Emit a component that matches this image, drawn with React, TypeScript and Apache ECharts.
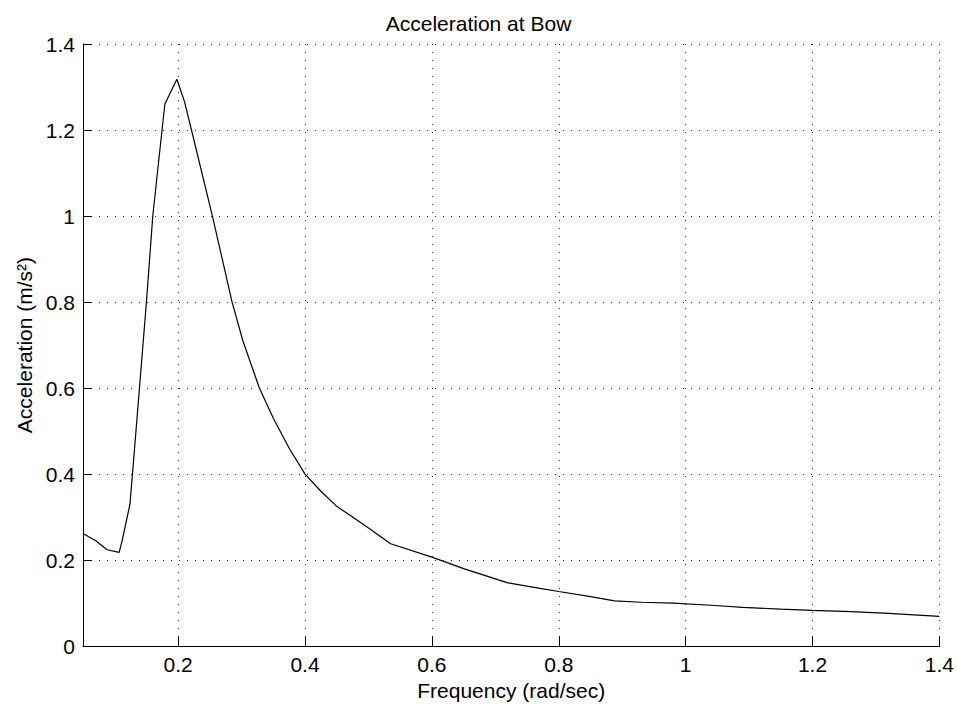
import React, { useEffect, useRef } from "react";
import * as echarts from "echarts";

const TITLE = "Acceleration at Bow";
const X_NAME = "Frequency (rad/sec)";
const Y_NAME = "Acceleration (m/s²)";

const freq: number[] = [
  0.05, 0.07, 0.088, 0.107, 0.112, 0.124, 0.128, 0.139, 0.15, 0.16, 0.168, 0.179,
  0.188, 0.198, 0.21, 0.221, 0.254, 0.285, 0.302, 0.328, 0.35, 0.375,
  0.4, 0.425, 0.45, 0.49, 0.535, 0.6, 0.65, 0.705, 0.72, 0.768, 0.8, 0.85,
  0.888, 0.93, 0.98, 1.04, 1.09, 1.15, 1.2, 1.26, 1.32, 1.4,
];
const accel: number[] = [
  0.262, 0.245, 0.224, 0.218, 0.247, 0.33, 0.4, 0.6, 0.8, 1.0, 1.11, 1.26,
  1.288, 1.318, 1.266, 1.2, 1.0, 0.8, 0.71, 0.6, 0.53, 0.46,
  0.4, 0.36, 0.325, 0.285, 0.238, 0.207, 0.18, 0.154, 0.147, 0.135, 0.127, 0.115,
  0.105, 0.102, 0.1, 0.095, 0.09, 0.086, 0.083, 0.08, 0.076, 0.069,
];

const X_MIN = 0.05;
const X_MAX = 1.4;
const Y_MIN = 0;
const Y_MAX = 1.4;
const Y_STEP = 0.2;

const FONT = "'Liberation Sans', Arial, Helvetica, sans-serif";

export default function App() {
  const ref = useRef<HTMLDivElement>(null);
  useEffect(() => {
    if (!ref.current) return;
    const chart = echarts.init(ref.current, null, { renderer: "svg" });
    const gridLine = { show: true, lineStyle: { color: "#222", width: 1, type: [1, 7] as any } };
    chart.setOption({
      animation: false,
      backgroundColor: "#fff",
      textStyle: { fontFamily: FONT },
      title: {
        text: TITLE,
        left: "center",
        top: 8,
        textStyle: { fontFamily: FONT, fontSize: 21, fontWeight: "normal", color: "#000" },
      },
      grid: { left: 83, right: 15, top: 44, bottom: 59, containLabel: false },
      xAxis: {
        type: "value",
        min: X_MIN,
        max: X_MAX,
        splitNumber: 7,
        name: X_NAME,
        nameLocation: "middle",
        nameGap: 32,
        nameTextStyle: { fontFamily: FONT, fontSize: 21, color: "#000" },
        axisLine: { show: true, onZero: false, lineStyle: { color: "#000", width: 1 } },
        axisTick: { show: true, inside: true, length: 9, lineStyle: { color: "#000" } },
        axisLabel: { showMinLabel: false, margin: 8, fontFamily: FONT, fontSize: 21, color: "#000" },
        splitLine: gridLine,
      },
      yAxis: {
        type: "value",
        min: Y_MIN,
        max: Y_MAX,
        interval: Y_STEP,
        name: Y_NAME,
        nameLocation: "middle",
        nameGap: 46,
        nameTextStyle: { fontFamily: FONT, fontSize: 21, color: "#000" },
        axisLine: { show: true, lineStyle: { color: "#000", width: 1 } },
        axisTick: { show: true, inside: true, length: 9, lineStyle: { color: "#000" } },
        axisLabel: { margin: 8, fontFamily: FONT, fontSize: 21, color: "#000" },
        splitLine: gridLine,
      },
      series: [
        {
          type: "line",
          data: freq.map((f, i) => [f, accel[i]]),
          showSymbol: false,
          symbol: "none",
          lineStyle: { color: "#000", width: 1.2 },
          clip: true,
        },
      ],
    });
    return () => chart.dispose();
  }, []);
  return <div ref={ref} style={{ width: 957, height: 706, position: "absolute", left: 0, top: 0 }} />;
}
